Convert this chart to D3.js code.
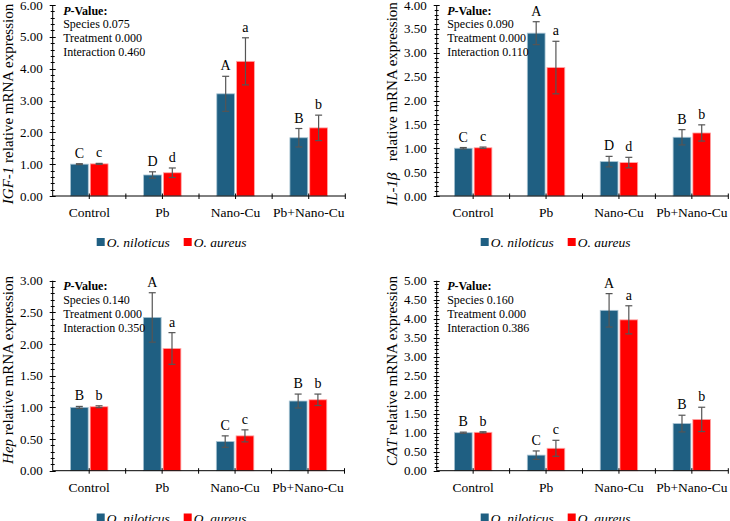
<!DOCTYPE html>
<html>
<head>
<meta charset="utf-8">
<script src="https://cdn.jsdelivr.net/npm/d3@7"></script>
<style>
  body { margin: 0; background: #fff; }
  svg { display: block; font-family: "Liberation Serif", "Times New Roman", serif; }
</style>
</head>
<body>
<svg id="chart" width="730" height="521"></svg>
<script>
// chart data
var categories = ["Control", "Pb", "Nano-Cu", "Pb+Nano-Cu"];
var species = ["O. niloticus", "O. aureus"];

var igf1Nil = [1.00, 0.66, 3.21, 1.83];
var igf1NilErr = [0.015, 0.10, 0.55, 0.29];
var igf1Aur = [1.01, 0.73, 4.23, 2.14];
var igf1AurErr = [0.015, 0.15, 0.74, 0.40];
var igf1Letters = [["C", "c"], ["D", "d"], ["A", "a"], ["B", "b"]];
var igf1P = ["0.075", "0.000", "0.460"];

var il1bNil = [1.00, 3.41, 0.72, 1.23];
var il1bNilErr = [0.015, 0.24, 0.11, 0.16];
var il1bAur = [1.01, 2.69, 0.70, 1.32];
var il1bAurErr = [0.015, 0.55, 0.11, 0.17];
var il1bLetters = [["C", "c"], ["A", "a"], ["D", "d"], ["B", "b"]];
var il1bP = ["0.090", "0.000", "0.110"];

var hepNil = [1.00, 2.42, 0.46, 1.10];
var hepNilErr = [0.015, 0.39, 0.09, 0.11];
var hepAur = [1.01, 1.93, 0.55, 1.12];
var hepAurErr = [0.015, 0.25, 0.095, 0.09];
var hepLetters = [["B", "b"], ["A", "a"], ["C", "c"], ["B", "b"]];
var hepP = ["0.140", "0.000", "0.350"];

var catNil = [1.00, 0.41, 4.22, 1.24];
var catNilErr = [0.015, 0.11, 0.44, 0.22];
var catAur = [1.01, 0.59, 3.97, 1.35];
var catAurErr = [0.015, 0.21, 0.37, 0.32];
var catLetters = [["B", "b"], ["C", "c"], ["A", "a"], ["B", "b"]];
var catP = ["0.160", "0.000", "0.386"];

var pLabels = ["Species", "Treatment", "Interaction"];
var colors = ["#1f5f82", "#ff0000"];
var edges = ["#a9c4d3", "#ffa8a8"];

var panels = [
	{gene: "IGF-1", nil: igf1Nil, nilErr: igf1NilErr, aur: igf1Aur, aurErr: igf1AurErr, letters: igf1Letters, p: igf1P,
	 yMax: 6, major: 1, minor: 0.2, x0: 52.7, x1: 345.3, top: 5, bottom: 196, labelX: 12.7, labelY: 104, gap: "", legendY: 242},
	{gene: "IL-1\u03b2", nil: il1bNil, nilErr: il1bNilErr, aur: il1bAur, aurErr: il1bAurErr, letters: il1bLetters, p: il1bP,
	 yMax: 4, major: 0.5, minor: 0.1, x0: 436.7, x1: 728.3, top: 5, bottom: 196, labelX: 397, labelY: 104, gap: "  ", legendY: 242},
	{gene: "Hep", nil: hepNil, nilErr: hepNilErr, aur: hepAur, aurErr: hepAurErr, letters: hepLetters, p: hepP,
	 yMax: 3, major: 0.5, minor: 0.1, x0: 52.7, x1: 344.5, top: 280.7, bottom: 470.7, labelX: 12.7, labelY: 370, gap: "", legendY: 517.5},
	{gene: "CAT", nil: catNil, nilErr: catNilErr, aur: catAur, aurErr: catAurErr, letters: catLetters, p: catP,
	 yMax: 5, major: 0.5, minor: 0.1, x0: 436.7, x1: 728.3, top: 280.7, bottom: 470.7, labelX: 397, labelY: 371, gap: "", legendY: 517.5}
];

var svg = d3.select("#chart");

panels.forEach(function(p) { drawPanel(svg, p); });

function drawPanel(svg, p) {
	var g = svg.append("g");

	var x = d3.scaleBand().domain(categories).range([p.x0, p.x1]);
	var bw = x.bandwidth();
	var inner = d3.scaleBand().domain(species)
		.range([-bw * 0.257, bw * 0.257])
		.paddingInner(0.1);
	var y = d3.scaleLinear().domain([0, p.yMax]).range([p.bottom, p.top]);

	// bars + error bars + letters
	var rows = [];
	categories.forEach(function(c, i) {
		rows.push({cat: c, s: 0, v: p.nil[i], e: p.nilErr[i], l: p.letters[i][0]});
		rows.push({cat: c, s: 1, v: p.aur[i], e: p.aurErr[i], l: p.letters[i][1]});
	});
	function bx(d) { return x(d.cat) + bw / 2 + inner(species[d.s]); }
	function cx(d) { return bx(d) + inner.bandwidth() / 2; }

	g.selectAll("rect.bar").data(rows).enter().append("rect")
		.attr("class", "bar")
		.attr("x", bx)
		.attr("y", function(d) { return y(d.v); })
		.attr("width", inner.bandwidth())
		.attr("height", function(d) { return y(0) - y(d.v); })
		.attr("fill", function(d) { return colors[d.s]; })
		.attr("stroke", function(d) { return edges[d.s]; })
		.attr("stroke-width", 0.8);

	var err = g.selectAll("g.err").data(rows).enter().append("g")
		.attr("class", "err")
		.attr("stroke", "#555")
		.attr("stroke-width", 1.2);
	err.append("line")
		.attr("x1", cx).attr("x2", cx)
		.attr("y1", function(d) { return y(d.v + d.e); })
		.attr("y2", function(d) { return y(d.v - d.e); });
	err.append("line")
		.attr("x1", function(d) { return cx(d) - 3.5; }).attr("x2", function(d) { return cx(d) + 3.5; })
		.attr("y1", function(d) { return y(d.v + d.e); }).attr("y2", function(d) { return y(d.v + d.e); });
	err.append("line")
		.attr("x1", function(d) { return cx(d) - 3.5; }).attr("x2", function(d) { return cx(d) + 3.5; })
		.attr("y1", function(d) { return y(d.v - d.e); }).attr("y2", function(d) { return y(d.v - d.e); });

	g.selectAll("text.letter").data(rows).enter().append("text")
		.attr("class", "letter")
		.attr("x", cx)
		.attr("y", function(d) { return y(d.v + d.e) - 6; })
		.attr("text-anchor", "middle")
		.attr("font-size", 14)
		.text(function(d) { return d.l; });

	// y axis with major + minor cross ticks
	var ya = g.append("g").attr("stroke", "#000").attr("stroke-width", 1);
	ya.append("line").attr("x1", p.x0).attr("x2", p.x0).attr("y1", p.top).attr("y2", p.bottom);
	var minors = d3.range(0, p.yMax + 1e-6, p.minor);
	ya.selectAll("line.minor").data(minors).enter().append("line")
		.attr("class", "minor")
		.attr("x1", p.x0 - 2).attr("x2", p.x0 + 2)
		.attr("y1", function(d) { return Math.round(y(d)) + 0.5; })
		.attr("y2", function(d) { return Math.round(y(d)) + 0.5; });
	var majors = d3.range(0, p.yMax + 1e-6, p.major);
	ya.selectAll("line.major").data(majors).enter().append("line")
		.attr("class", "major")
		.attr("x1", p.x0 - 3).attr("x2", p.x0 + 3)
		.attr("y1", function(d) { return Math.round(y(d)) + 0.5; })
		.attr("y2", function(d) { return Math.round(y(d)) + 0.5; });
	g.selectAll("text.ytick").data(majors).enter().append("text")
		.attr("class", "ytick")
		.attr("x", p.x0 - 10)
		.attr("y", function(d) { return y(d) + 4.5; })
		.attr("text-anchor", "end")
		.attr("font-size", 13)
		.text(d3.format(".2f"));

	// x axis: ticks at category edges and centres
	var xa = g.append("g").attr("stroke", "#000").attr("stroke-width", 1);
	xa.append("line").attr("x1", p.x0).attr("x2", p.x1).attr("y1", p.bottom).attr("y2", p.bottom);
	var xt = d3.range(1, 2 * categories.length + 1).map(function(k) { return p.x0 + k * bw / 2; });
	xa.selectAll("line.xt").data(xt).enter().append("line")
		.attr("class", "xt")
		.attr("x1", function(d) { return d; }).attr("x2", function(d) { return d; })
		.attr("y1", p.bottom - 2.5).attr("y2", p.bottom + 3);
	g.selectAll("text.xlab").data(categories).enter().append("text")
		.attr("class", "xlab")
		.attr("x", function(d) { return x(d) + bw / 2; })
		.attr("y", p.bottom + 21)
		.attr("text-anchor", "middle")
		.attr("font-size", 13.5)
		.text(function(d) { return d; });

	// y title
	var yt = g.append("text")
		.attr("transform", "translate(" + p.labelX + "," + p.labelY + ") rotate(-90)")
		.attr("text-anchor", "middle")
		.attr("font-size", 15)
		.style("white-space", "pre");
	yt.append("tspan").attr("font-style", "italic").text(p.gene);
	yt.append("tspan").text(p.gap + " relative mRNA expression");

	// P-value box
	var pv = g.append("text").attr("font-size", 12);
	var tx = p.x0 + 10.5, ty = p.top + 9.5;
	var t0 = pv.append("tspan").attr("x", tx).attr("y", ty).attr("font-weight", "bold");
	t0.append("tspan").attr("font-style", "italic").text("P");
	t0.append("tspan").text("-Value:");
	pLabels.forEach(function(lab, i) {
		pv.append("tspan").attr("x", tx).attr("y", ty + 13.9 * (i + 1)).text(lab + " " + p.p[i]);
	});

	// legend
	var offs = [44, 131];
	var lg = g.selectAll("g.leg").data(species).enter().append("g")
		.attr("class", "leg")
		.attr("transform", function(d, i) { return "translate(" + (p.x0 + offs[i]) + "," + p.legendY + ")"; });
	lg.append("rect")
		.attr("x", 0).attr("y", -4).attr("width", 8).attr("height", 8)
		.attr("fill", function(d, i) { return colors[i]; });
	lg.append("text")
		.attr("x", 10).attr("y", 5)
		.attr("font-size", 13.5)
		.attr("font-style", "italic")
		.text(function(d) { return d; });
}
</script>
</body>
</html>
